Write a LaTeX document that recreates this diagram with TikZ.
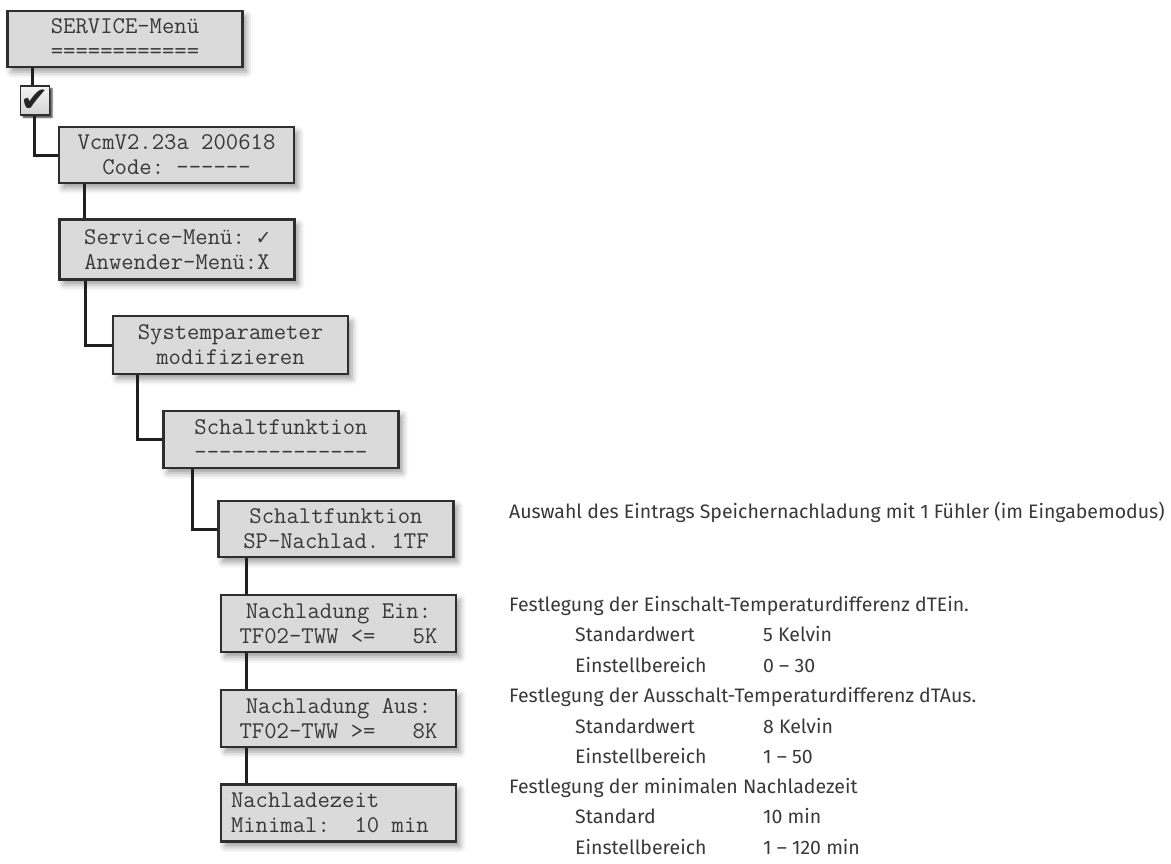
\documentclass[tikz,border=0pt]{standalone}
\usepackage{fontspec}
\setmainfont{Fira Sans}
\newfontfamily\symfont{DejaVu Sans}
\usetikzlibrary{shadows.blur}

\definecolor{boxfill}{HTML}{DADADA}
\definecolor{boxline}{HTML}{2E2E2E}
\definecolor{wirecol}{HTML}{1F1F1F}
\definecolor{txt}{HTML}{383838}

\newcommand\bstrut{\rule[-3pt]{0pt}{20pt}}
\newcommand\monosp{\hphantom{0}}
\newcommand\chk{\makebox[0.525em]{\symfont\fontsize{19}{25}\selectfont ✓}}

\tikzset{
  lcd/.style={draw=boxline, line width=2.2pt, fill=boxfill,
    minimum width=235pt, minimum height=57pt, inner sep=0pt, align=center,
    font=\ttfamily\fontsize{24}{25}\selectfont, text=txt,
    blur shadow={shadow xshift=4pt, shadow yshift=-5pt, shadow blur radius=6pt, shadow opacity=40}},
  chkbox/.style={draw=boxline, line width=1.4pt, top color=white!92!gray, bottom color=gray!35,
    minimum width=29pt, minimum height=29pt, inner sep=0pt,
    blur shadow={shadow xshift=2.5pt, shadow yshift=-2.5pt, shadow blur radius=1.5pt, shadow opacity=75}},
  wire/.style={draw=wirecol, line width=3pt},
  desc/.style={anchor=base west, inner sep=0pt, font=\fontsize{19.5}{23}\selectfont, text=txt}
}

\begin{document}
\begin{tikzpicture}[x=1pt,y=-1pt]
\useasboundingbox (0,0) rectangle (1171,863);

\node[lcd, minimum height=56pt] (n1) at (125,39) {\bstrut SERVICE-Menü\\============\bstrut};
\node[chkbox] (chk) at (35,100.5) {\raisebox{-11pt}[0pt][0pt]{\makebox[0pt]{\symfont\fontsize{34}{34}\selectfont\color{black!85}✔}}};
\node[lcd, minimum height=56pt] (n2) at (176.5,155) {\bstrut VcmV2.23a 200618\\Code:\monosp------\bstrut};
\node[lcd, minimum height=60pt] (n3) at (177,249.5) {\bstrut Service-Menü:\monosp\chk\\Anwender-Menü:X\bstrut};
\node[lcd, minimum height=58pt] (n4) at (230.5,345) {\bstrut Systemparameter\\modifizieren\bstrut};
\node[lcd] (n5) at (281,439.5) {\bstrut Schaltfunktion\\--------------\bstrut};
\node[lcd, minimum height=56pt] (n6) at (336,529) {\bstrut Schaltfunktion\\SP-Nachlad.\monosp 1TF\bstrut};
\node[lcd] (n7) at (338.5,623.5) {\bstrut Nachladung\monosp Ein:\\TF02-TWW\monosp<=\monosp\monosp\monosp 5K\bstrut};
\node[lcd] (n8) at (338.5,718.5) {\bstrut Nachladung\monosp Aus:\\TF02-TWW\monosp>=\monosp\monosp\monosp 8K\bstrut};
\node[lcd, align=left, text width=215pt, inner xsep=10pt] (n9) at (338.5,813) {\bstrut Nachladezeit\\Minimal:\monosp\monosp 10\monosp min\bstrut};

\draw[wire] ([xshift=26pt]n1.south west) -- ([xshift=26pt]n1.south west |- chk.north);
\draw[wire] ([xshift=-1pt]chk.south) |- (n2.west);
\draw[wire] ([xshift=27pt]n2.south west) -- ([xshift=27pt]n2.south west |- n3.north);
\draw[wire] ([xshift=27pt]n3.south west) |- (n4.west);
\draw[wire] ([xshift=26pt]n4.south west) |- (n5.west);
\draw[wire] ([xshift=30pt]n5.south west) |- (n6.west);
\draw[wire] ([xshift=29pt]n6.south west) -- ([xshift=29pt]n6.south west |- n7.north);
\draw[wire] ([xshift=27pt]n7.south west) -- ([xshift=27pt]n7.south west |- n8.north);
\draw[wire] ([xshift=27pt]n8.south west) -- ([xshift=27pt]n8.south west |- n9.north);

\node[desc] (t1) at (509,518) {Auswahl des Eintrags Speichernachladung mit 1 Fühler (im Eingabemodus)};
\node[desc] (t2) at (509,611) {Festlegung der Einschalt-Temperaturdifferenz dTEin.};
\node[desc] (t3) at (575,641.5) {Standardwert};
\node[desc] (t3v) at (763,641.5) {5 Kelvin};
\node[desc] (t4) at (575,672) {Einstellbereich};
\node[desc] (t4v) at (763,672) {0 – 30};
\node[desc] (t5) at (509,702.5) {Festlegung der Ausschalt-Temperaturdifferenz dTAus.};
\node[desc] (t6) at (575,733) {Standardwert};
\node[desc] (t6v) at (763,733) {8 Kelvin};
\node[desc] (t7) at (575,763) {Einstellbereich};
\node[desc] (t7v) at (763,763) {1 – 50};
\node[desc] (t8) at (509,793.5) {Festlegung der minimalen Nachladezeit};
\node[desc] (t9) at (575,823.5) {Standard};
\node[desc] (t9v) at (763,823.5) {10 min};
\node[desc] (t10) at (575,854) {Einstellbereich};
\node[desc] (t10v) at (763,854) {1 – 120 min};
\end{tikzpicture}
\end{document}
